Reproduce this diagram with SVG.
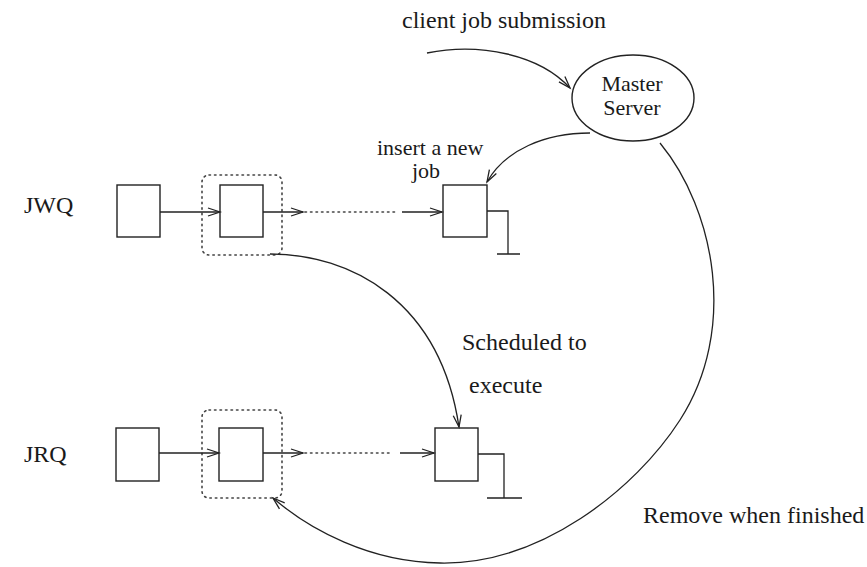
<svg xmlns="http://www.w3.org/2000/svg" width="867" height="567" viewBox="0 0 867 567">
<style>
text{font-family:"Liberation Serif","DejaVu Serif","Times New Roman",serif;font-size:24px;fill:#1a1a1a}
.sm{font-size:22px}
.box{fill:none;stroke:#222;stroke-width:1.4}
.dot{fill:none;stroke:#444;stroke-width:1.6;stroke-dasharray:1.5 4;stroke-linecap:round}
.ln{fill:none;stroke:#222;stroke-width:1.3}
.arr{fill:none;stroke:#222;stroke-width:1.3;marker-end:url(#ah)}
</style>
<defs>
<marker id="ah" markerUnits="userSpaceOnUse" markerWidth="14" markerHeight="10" refX="12" refY="4" orient="auto" overflow="visible">
<path d="M0,0 L12,4 L0,8" fill="none" stroke="#222" stroke-width="1.3"/>
</marker>
</defs>
<rect width="867" height="567" fill="#fff"/>
<g id="labels" font-family="Liberation Serif, DejaVu Serif, serif">
<text x="24" y="213">JWQ</text>
<text x="24" y="462">JRQ</text>
<text x="402" y="28">client job submission</text>
<text x="377" y="155" class="sm">insert a new</text>
<text x="412" y="178" class="sm">job</text>
<text x="462" y="350">Scheduled to</text>
<text x="469" y="393">execute</text>
<text x="643" y="523">Remove when finished</text>
</g>
<g id="master" font-family="Liberation Serif, DejaVu Serif, serif">
<ellipse cx="633" cy="98" rx="61" ry="43" class="box"/>
<text x="632" y="91" text-anchor="middle" class="sm">Master</text>
<text x="632" y="115" text-anchor="middle" class="sm">Server</text>
</g>
<g id="jwq1"><rect x="117" y="185" width="43" height="52" class="box"/></g>
<g id="jwq2">
<rect x="202" y="175" width="80" height="80" rx="7" class="dot"/>
<rect x="220" y="185" width="43" height="52" class="box"/>
</g>
<g id="jwq3">
<rect x="443" y="185" width="44" height="52" class="box"/>
<path d="M487,211 H508 V254 M497,254 H520" class="ln"/>
</g>
<g id="jrq1"><rect x="116" y="428" width="43" height="53" class="box"/></g>
<g id="jrq2">
<rect x="202" y="410" width="80" height="88" rx="7" class="dot"/>
<rect x="219" y="428" width="44" height="53" class="box"/>
</g>
<g id="jrq3">
<rect x="435" y="428" width="43" height="53" class="box"/>
<path d="M478,454 H504 V498 M487,498 H522" class="ln"/>
</g>
<g id="connectors">
<path d="M160,212 H220" class="arr"/>
<path d="M263,212 H303" class="arr"/>
<path d="M305,212 H395" class="dot"/>
<path d="M402,212 H442" class="arr"/>
<path d="M159,453 H219" class="arr"/>
<path d="M263,453 H303" class="arr"/>
<path d="M305,453 H393" class="dot"/>
<path d="M400,453 H434" class="arr"/>
<path d="M427,53 C480,42 540,55 570,88" class="arr"/>
<path d="M590,133 C545,133 505,150 487,182" class="arr"/>
<path d="M270,254 C350,254 440,300 459,427" class="arr"/>
<path d="M660,143 C715,210 738,330 680,420 C635,490 540,565 440,563 C370,562 310,530 273,498" class="arr"/>
</g>
</svg>
